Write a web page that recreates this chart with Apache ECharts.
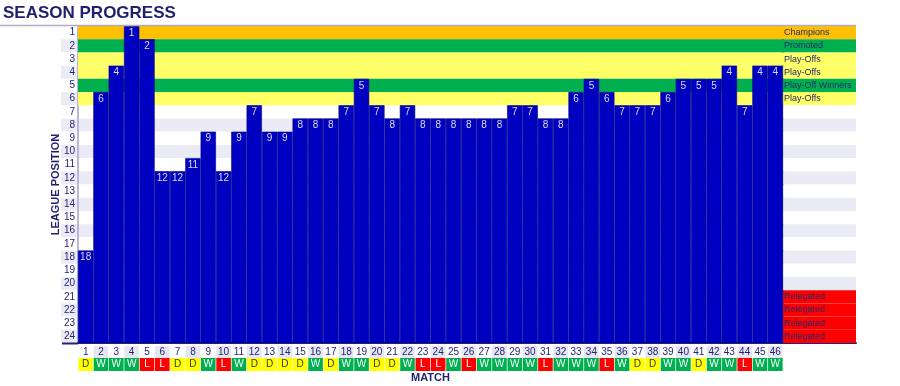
<!DOCTYPE html>
<html><head><meta charset="utf-8">
<script src="https://cdn.jsdelivr.net/npm/echarts@6/dist/echarts.min.js"></script>
<style>html,body{margin:0;padding:0;background:#fff}#c{width:900px;height:386px}</style>
</head><body><div id="c"></div>
<script>
const matches = Array.from({length: 46}, (_, i) => String(i + 1));
const positions = [18,6,4,1,2,12,12,11,9,12,9,7,9,9,8,8,8,7,5,7,8,7,8,8,8,8,8,8,7,7,8,8,6,5,6,7,7,7,6,5,5,5,4,7,4,4];
const results = ['D','W','W','W','L','L','D','D','W','L','W','D','D','D','D','W','D','W','W','D','D','W','L','L','W','L','W','W','W','W','L','W','W','W','L','W','D','D','W','W','D','W','W','L','W','W'];
const rowLabels = Array.from({length: 24}, (_, i) => String(i + 1));
const zoneNames = ['Champions','Promoted','Play-Offs','Play-Offs','Play-Off Winners','Play-Offs','','','','','','','','','','','','','','','Relegated','Relegated','Relegated','Relegated'];
const zoneKinds = ['champ','promo','po','po','pow','po','','','','','','','','','','','','','','','rel','rel','rel','rel'];

const NROWS = rowLabels.length;
const zoneColor = {champ:'#ffc000', promo:'#00b050', po:'#ffff66', pow:'#00b050', rel:'#ff0000'};
const navy = '#23237a';
const bandData = [];
zoneKinds.forEach((k, i) => {
  if (k && k !== 'rel') {
    bandData.push([{yAxis: NROWS - i - 1, itemStyle: {color: zoneColor[k]}}, {yAxis: NROWS - i}]);
  }
});
const resStyle = {
  W: {backgroundColor:'#00b050', color:'#ffffff'},
  D: {backgroundColor:'#ffff00', color:'#333333'},
  L: {backgroundColor:'#ff0000', color:'#ffffff'}
};
const rich = {
  nw: {width: 14.6, height: 12, align:'center', color: navy, fontSize: 10, lineHeight: 12},
  ng: {width: 14.6, height: 12, align:'center', color: navy, fontSize: 10, lineHeight: 12, backgroundColor:'#e6e6f0'}
};
['W','D','L'].forEach(r => {
  rich[r] = Object.assign({width: 14.6, height: 13, lineHeight: 13, align:'center', fontSize: 10}, resStyle[r]);
});

const chart = echarts.init(document.getElementById('c'), null, {renderer:'canvas'});
chart.setOption({
  animation: false,
  textStyle: {fontFamily: "'Liberation Sans', Arial, sans-serif"},
  title: {
    text: 'SEASON PROGRESS', left: -2, top: 0,
    textStyle: {fontSize: 17, fontWeight: 'bold', color: '#1f1f6e', fontFamily: "'Liberation Sans', Arial, sans-serif"}
  },
  graphic: [
    {type:'line', shape:{x1:0, y1:25.5, x2:856, y2:25.5}, style:{stroke:'#b0aac4', lineWidth:1.5}, z: 100},
    {type:'line', shape:{x1:62, y1:343.5, x2:78, y2:343.5}, style:{stroke:navy, lineWidth:2}, z: 100}
  ],
  grid: [
    {left: 78, top: 26, width: 705, height: 317, outerBoundsMode: 'none', containLabel: false},
    {left: 783, top: 26, width: 73, height: 317, outerBoundsMode: 'none', containLabel: false}
  ],
  xAxis: [
    {
      type:'category', gridIndex: 0, data: matches,
      axisLine: {show: true, lineStyle: {color: navy, width: 2}},
      axisTick: {show: false},
      axisLabel: {
        interval: 0, margin: 3,
        formatter: (v, i) => `{${i % 2 ? 'ng' : 'nw'}|${v}}\n{${results[i]}|${results[i]}}`,
        rich: rich
      },
      name: 'MATCH', nameLocation: 'middle', nameGap: 29, nameMoveOverlap: false,
      nameTextStyle: {fontSize: 11, fontWeight: 'bold', color: '#1f1f6e'}
    },
    {
      type:'value', gridIndex: 1, min: 0, max: 1,
      axisLine: {show: true, onZero: false, lineStyle: {color: navy, width: 2}},
      axisTick: {show: false}, axisLabel: {show: false}, splitLine: {show: false}
    }
  ],
  yAxis: [
    {type:'value', gridIndex: 0, min: 0, max: NROWS, show: false, position: 'right'},
    {
      type:'category', gridIndex: 0, data: rowLabels, inverse: true, position: 'left',
      axisLine: {show: true, lineStyle: {color: '#b8b8dc', width: 2}},
      axisTick: {show: false},
      splitArea: {show: true, areaStyle: {color: ['#ffffff', '#ebebf5']}},
      axisLabel: {
        margin: 1, interval: 0,
        formatter: (v, i) => `{${i % 2 ? 'g' : 'w'}|${v}}`,
        rich: {
          w: {width: 14, height: 13, align: 'right', color: navy, fontSize: 10, padding: [0, 2, 0, 0]},
          g: {width: 14, height: 13, align: 'right', color: navy, fontSize: 10, padding: [0, 2, 0, 0], backgroundColor: '#ebebf5'}
        }
      },
      name: 'LEAGUE POSITION', nameLocation: 'middle', nameRotate: 90, nameGap: 17, nameMoveOverlap: false,
      nameTextStyle: {fontSize: 11, fontWeight: 'bold', color: '#1f1f6e'}
    },
    {
      type:'category', gridIndex: 1, data: rowLabels, inverse: true, position: 'left',
      axisLine: {show: true, lineStyle: {color: '#3a3a5a', width: 1.5}},
      axisTick: {show: false}, axisLabel: {show: false}
    }
  ],
  series: [
    {
      type: 'bar', xAxisIndex: 0, yAxisIndex: 0,
      data: positions.map(p => NROWS + 1 - p),
      barCategoryGap: '0%',
      itemStyle: {color: '#0000c0', borderColor: '#00008a', borderWidth: 0.6},
      label: {
        show: true, position: 'insideTop', distance: 2,
        formatter: p => positions[p.dataIndex],
        color: '#dcdcf8', fontSize: 10
      },
      markArea: {silent: true, label: {show: false}, data: bandData},
      z: 3
    },
    {
      type: 'bar', xAxisIndex: 1, yAxisIndex: 2,
      data: zoneKinds.map((k, i) => ({
        value: 1,
        itemStyle: {color: k ? zoneColor[k] : (i % 2 ? '#ebebf5' : '#ffffff')}
      })),
      barCategoryGap: '0%',
      label: {
        show: true, position: 'insideLeft', distance: 1,
        formatter: p => zoneNames[p.dataIndex],
        color: '#1f2a6e', fontSize: 9,
        fontFamily: "'Liberation Sans', Arial, sans-serif"
      }
    }
  ]
});
</script>
</body></html>
